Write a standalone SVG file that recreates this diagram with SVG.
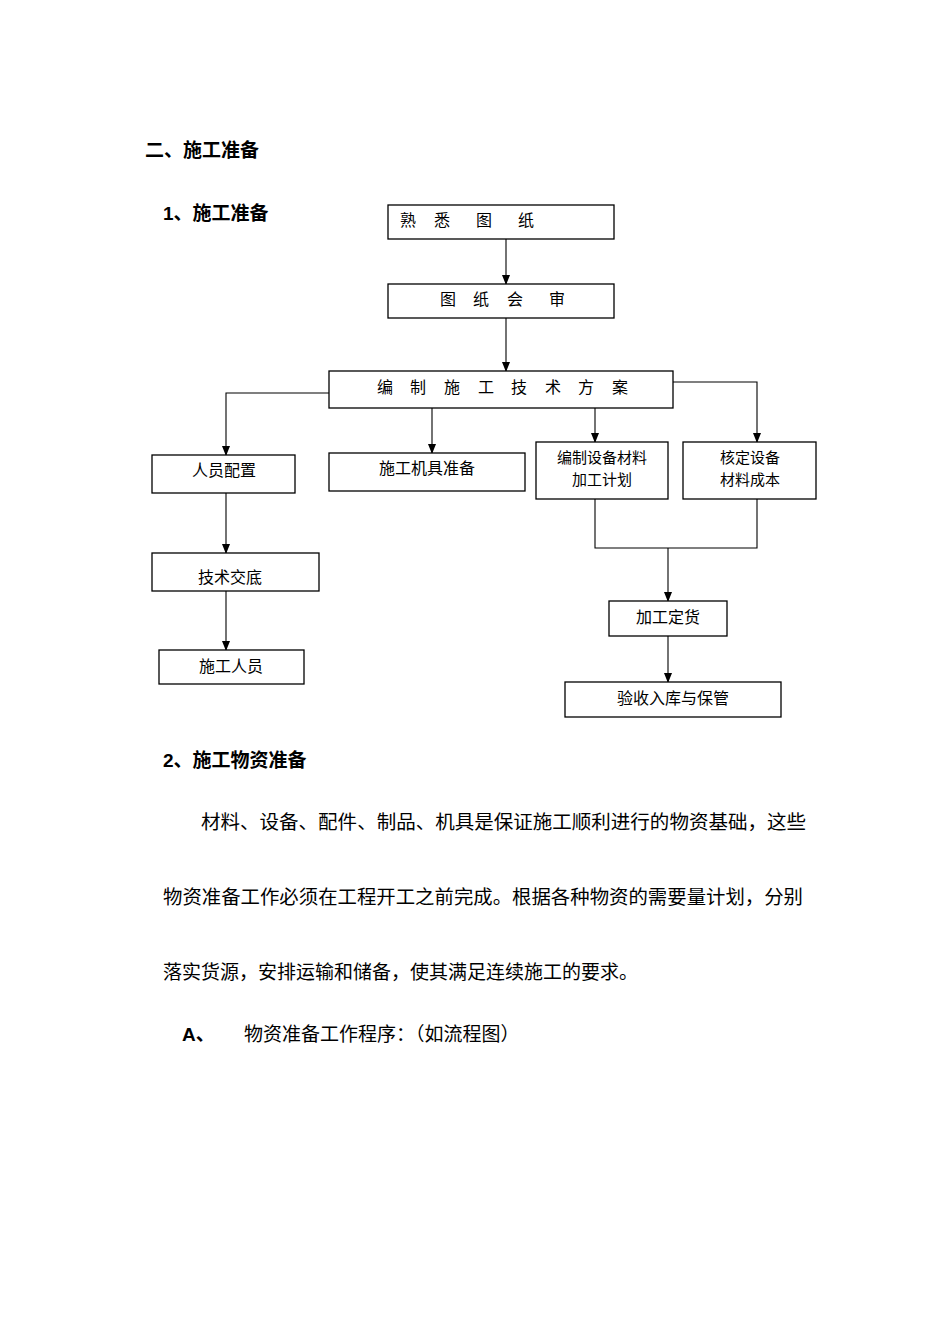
<svg xmlns="http://www.w3.org/2000/svg" width="950" height="1344" viewBox="0 0 950 1344">
<style>
.bx{fill:#fff;stroke:#000;stroke-width:1.3}
.bt{font-family:"Noto Sans CJK SC","Liberation Serif",serif;font-size:16px;fill:#000;dominant-baseline:central}
.bt2{font-size:15px}
.mid{text-anchor:middle}
.h{font-family:"Liberation Sans","Noto Sans CJK SC",sans-serif;font-size:19px;font-weight:bold;fill:#000;dominant-baseline:central}
.p{font-family:"Liberation Sans","Noto Sans CJK SC",sans-serif;font-size:19px;fill:#000;dominant-baseline:central}
.c{fill:none;stroke:#000;stroke-width:1.1}
</style>
<defs>
<marker id="ah" markerWidth="10" markerHeight="10" refX="9" refY="5" orient="auto" markerUnits="userSpaceOnUse">
<path d="M0,1 L10,5 L0,9 Z" fill="#000"/>
</marker>
</defs>
<rect width="950" height="1344" fill="#fff"/>
<g id="texts">
<text class="h" x="145" y="150">二、施工准备</text>
<text class="h" x="163" y="213">1、施工准备</text>
<text class="h" x="163" y="760">2、施工物资准备</text>
<text class="p" x="201" y="822" textLength="605" lengthAdjust="spacingAndGlyphs">材料、设备、配件、制品、机具是保证施工顺利进行的物资基础，这些</text>
<text class="p" x="163" y="897" textLength="640" lengthAdjust="spacingAndGlyphs">物资准备工作必须在工程开工之前完成。根据各种物资的需要量计划，分别</text>
<text class="p" x="163" y="972" textLength="475" lengthAdjust="spacingAndGlyphs">落实货源，安排运输和储备，使其满足连续施工的要求。</text>
<text class="h" x="182" y="1034">A、</text>
<text class="p" x="244" y="1034">物资准备工作程序：（如流程图）</text>
</g>
<g id="connectors">
<path class="c" d="M506,239 V284" marker-end="url(#ah)"/>
<path class="c" d="M506,318 V371" marker-end="url(#ah)"/>
<path class="c" d="M329,393 H226 V455" marker-end="url(#ah)"/>
<path class="c" d="M432,408 V453" marker-end="url(#ah)"/>
<path class="c" d="M595,408 V442" marker-end="url(#ah)"/>
<path class="c" d="M673,382 H757 V442" marker-end="url(#ah)"/>
<path class="c" d="M226,493 V553" marker-end="url(#ah)"/>
<path class="c" d="M226,591 V650" marker-end="url(#ah)"/>
<path class="c" d="M595,499 V548 H757 V499"/>
<path class="c" d="M668,548 V601" marker-end="url(#ah)"/>
<path class="c" d="M668,636 V682" marker-end="url(#ah)"/>
</g>
<g id="n1"><rect class="bx" x="388" y="205" width="226" height="34"/>
<text class="bt" y="219"><tspan x="400">熟</tspan><tspan x="434">悉</tspan><tspan x="476">图</tspan><tspan x="518">纸</tspan></text></g>
<g id="n2"><rect class="bx" x="388" y="284" width="226" height="34"/>
<text class="bt" y="298"><tspan x="440">图</tspan><tspan x="473">纸</tspan><tspan x="507">会</tspan><tspan x="549">审</tspan></text></g>
<g id="n3"><rect class="bx" x="329" y="371" width="344" height="37"/>
<text class="bt" y="386"><tspan x="377">编</tspan><tspan x="410">制</tspan><tspan x="444">施</tspan><tspan x="478">工</tspan><tspan x="511">技</tspan><tspan x="545">术</tspan><tspan x="578">方</tspan><tspan x="612">案</tspan></text></g>
<g id="n4"><rect class="bx" x="152" y="455" width="143" height="38"/>
<text class="bt mid" x="224" y="469">人员配置</text></g>
<g id="n5"><rect class="bx" x="329" y="453" width="196" height="38"/>
<text class="bt mid" x="427" y="467">施工机具准备</text></g>
<g id="n6"><rect class="bx" x="536" y="442" width="132" height="57"/>
<text class="bt bt2 mid" x="602" y="456">编制设备材料</text>
<text class="bt bt2 mid" x="602" y="478">加工计划</text></g>
<g id="n7"><rect class="bx" x="683" y="442" width="133" height="57"/>
<text class="bt bt2 mid" x="750" y="456">核定设备</text>
<text class="bt bt2 mid" x="750" y="478">材料成本</text></g>
<g id="n8"><rect class="bx" x="152" y="553" width="167" height="38"/>
<text class="bt mid" x="230" y="576">技术交底</text></g>
<g id="n9"><rect class="bx" x="159" y="650" width="145" height="34"/>
<text class="bt mid" x="231" y="665">施工人员</text></g>
<g id="n10"><rect class="bx" x="609" y="601" width="118" height="35"/>
<text class="bt mid" x="668" y="616">加工定货</text></g>
<g id="n11"><rect class="bx" x="565" y="682" width="216" height="35"/>
<text class="bt mid" x="673" y="697">验收入库与保管</text></g>
</svg>
